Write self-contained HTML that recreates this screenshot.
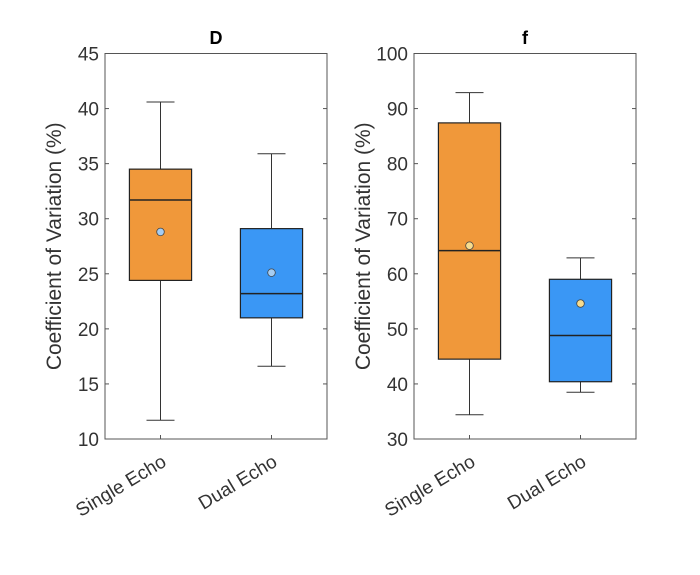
<!DOCTYPE html>
<html><head><meta charset="utf-8"><style>
body{margin:0;background:#fff;width:700px;height:570px;overflow:hidden}
text{font-family:"Liberation Sans","DejaVu Sans",sans-serif}
</style></head><body>
<svg id="chart" width="700" height="570"></svg>
<script>
const categories=["Single Echo","Dual Echo"];
const dWhiskLo=[11.7,16.6], dQ1=[24.4,21.0], dMed=[31.7,23.2], dQ3=[34.5,29.1], dWhiskHi=[40.6,35.9], dMean=[28.8,25.1];
const fWhiskLo=[34.4,38.5], fQ1=[44.5,40.4], fMed=[64.2,48.8], fQ3=[87.4,59.0], fWhiskHi=[92.9,62.9], fMean=[65.1,54.6];
const dTicks=[10,15,20,25,30,35,40,45];
const fTicks=[30,40,50,60,70,80,90,100];
const NS="http://www.w3.org/2000/svg";
const svg=document.getElementById('chart');
function mk(tag,attrs,parent){const e=document.createElementNS(NS,tag);for(const k in attrs)e.setAttribute(k,attrs[k]);(parent||svg).appendChild(e);return e;}
const fills=["#f0983a","#3a97f5"];
function panel(name,title,x0,x1,ymin,ymax,ticks,markerFill,lo,q1,med,q3,hi,mean){
  const g=mk('g',{});
  
  
  const yt=53.5,yb=439;
  const y=v=>yb-(v-ymin)/(ymax-ymin)*(yb-yt);
  const xc=[x0+(x1-x0)*0.25,x0+(x1-x0)*0.75];
  const ax=mk('rect',{x:x0,y:yt,width:x1-x0,height:yb-yt,fill:'#fff',stroke:'#555','stroke-width':1},g);
  
  
  ticks.forEach(t=>{
    mk('line',{x1:x0,x2:x0+4,y1:y(t),y2:y(t),stroke:'#555'},g);
    mk('line',{x1:x1,x2:x1-4,y1:y(t),y2:y(t),stroke:'#555'},g);
    const tl=mk('text',{x:x0-6,y:y(t)+7,'text-anchor':'end','font-size':19,fill:'#333'},g);
    tl.textContent=t;
    
    
  });
  const tt=mk('text',{x:(x0+x1)/2,y:44,'text-anchor':'middle','font-size':18,'font-weight':'bold',fill:'#000'},g);
  tt.textContent=title;
  
  
  const yl=mk('text',{transform:`translate(${x0-44},${(yt+yb)/2}) rotate(-90)`,'text-anchor':'middle','font-size':21,fill:'#333'},g);
  yl.textContent="Coefficient of Variation (%)";
  
  
  const bw=(x1-x0)*0.28;
  categories.forEach((c,i)=>{
    const cx=xc[i];
    mk('line',{x1:cx,x2:cx,y1:yb,y2:yb-4,stroke:'#555'},g);
    mk('line',{x1:cx,x2:cx,y1:y(hi[i]),y2:y(q3[i]),stroke:'#333'},g);
    mk('line',{x1:cx,x2:cx,y1:y(q1[i]),y2:y(lo[i]),stroke:'#333'},g);
    mk('line',{x1:cx-14,x2:cx+14,y1:y(hi[i]),y2:y(hi[i]),stroke:'#333'},g);
    mk('line',{x1:cx-14,x2:cx+14,y1:y(lo[i]),y2:y(lo[i]),stroke:'#333'},g);
    const b=mk('rect',{x:cx-bw/2,y:y(q3[i]),width:bw,height:y(q1[i])-y(q3[i]),fill:fills[i],stroke:'#222','stroke-width':1.2},g);
    
    
    mk('line',{x1:cx-bw/2,x2:cx+bw/2,y1:y(med[i]),y2:y(med[i]),stroke:'#222','stroke-width':1.5},g);
    const m=mk('circle',{cx:cx,cy:y(mean[i]),r:3.8,fill:markerFill,stroke:'#444','stroke-width':0.8},g);
    
    
    const xl=mk('text',{transform:`translate(${cx+7},${yb+26}) rotate(-31)`,'text-anchor':'end','font-size':19,fill:'#333'},g);
    xl.textContent=c;
    
    
  });
}
panel('d','D',105,327,10,45,dTicks,'#a6cdf2',dWhiskLo,dQ1,dMed,dQ3,dWhiskHi,dMean);
panel('f','f',414,636,30,100,fTicks,'#f7dc8e',fWhiskLo,fQ1,fMed,fQ3,fWhiskHi,fMean);
</script>
</body></html>
